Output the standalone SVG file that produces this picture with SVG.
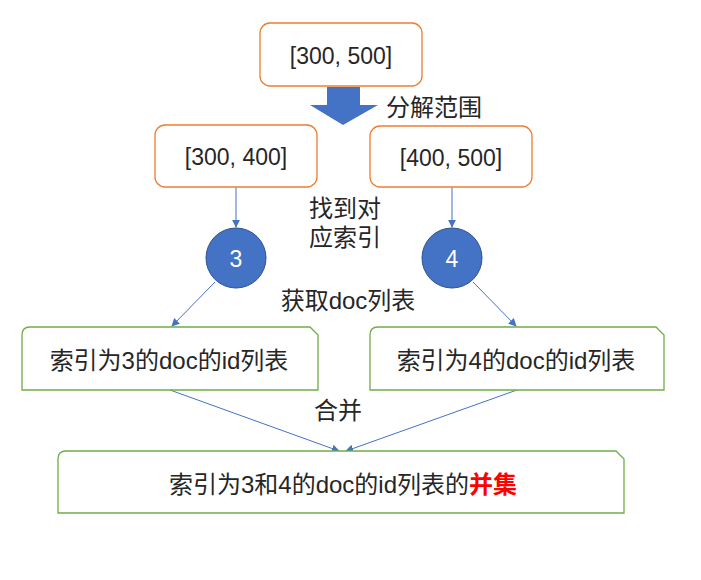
<svg xmlns="http://www.w3.org/2000/svg" width="701" height="580" viewBox="0 0 701 580">
<defs>
<style>
.t{font-family:"Liberation Sans","Noto Sans CJK SC",sans-serif;font-size:24px;fill:#262626;text-anchor:middle;dominant-baseline:central}
.n{font-size:23px}
.w{fill:#ffffff}
.ob{fill:#fff;stroke:#ED7D31;stroke-width:1.3}
.gb{fill:#fff;stroke:#70AD47;stroke-width:1.3}
.c{fill:#4472C4;stroke:#2F528F;stroke-width:1}
.ln{stroke:#4472C4;stroke-width:1;fill:none;marker-end:url(#ah)}
</style>
<marker id="ah" viewBox="0 0 10 10" refX="9" refY="5" markerWidth="8" markerHeight="8" markerUnits="userSpaceOnUse" orient="auto">
<path d="M0,0 L10,5 L0,10 z" fill="#4472C4"/>
</marker>
</defs>
<rect width="701" height="580" fill="#fff"/>
<g id="connectors">
<path d="M327,87 H360 V105 H378 L343,125 L310,105 H327 Z" fill="#4472C4"/>
<line class="ln" x1="236" y1="187" x2="236" y2="227"/>
<line class="ln" x1="452" y1="187" x2="452" y2="227"/>
<line class="ln" x1="215" y1="282" x2="172" y2="326"/>
<line class="ln" x1="473" y1="282" x2="516" y2="326"/>
<line class="ln" x1="170" y1="390" x2="339" y2="451"/>
<line class="ln" x1="517" y1="390" x2="346" y2="451"/>
</g>
<g id="labels">
<text class="t" x="434" y="107">分解范围</text>
<text class="t" x="345" y="208">找到对</text>
<text class="t" x="345" y="237">应索引</text>
<text class="t" x="348" y="300">获取doc列表</text>
<text class="t" x="338" y="410">合并</text>
</g>
<g id="n1"><rect class="ob" x="260" y="23" width="162" height="63" rx="10"/><text class="t n" x="341" y="56">[300, 500]</text></g>
<g id="n2"><rect class="ob" x="155" y="125" width="162" height="62" rx="10"/><text class="t n" x="236" y="157">[300, 400]</text></g>
<g id="n3"><rect class="ob" x="370" y="126" width="162" height="61" rx="10"/><text class="t n" x="451" y="158">[400, 500]</text></g>
<g id="n4"><circle class="c" cx="236" cy="258" r="30"/><text class="t n w" x="236" y="259">3</text></g>
<g id="n5"><circle class="c" cx="452" cy="258" r="30"/><text class="t n w" x="452" y="259">4</text></g>
<g id="n6"><path class="gb" d="M30,327 H310 L318,335 V390 H22 V335 Q22,327 30,327 Z"/><text class="t" x="169" y="360">索引为3的doc的id列表</text></g>
<g id="n7"><path class="gb" d="M378,327 H656 L664,335 V390 H370 V335 Q370,327 378,327 Z"/><text class="t" x="516" y="360">索引为4的doc的id列表</text></g>
<g id="n8"><path class="gb" d="M66,451 H616 L624,459 V513 H58 V459 Q58,451 66,451 Z"/><text class="t" x="343" y="484" font-size="24.5">索引为3和4的doc的id列表的<tspan fill="#FF0000" font-weight="bold">并集</tspan></text></g>
</svg>
